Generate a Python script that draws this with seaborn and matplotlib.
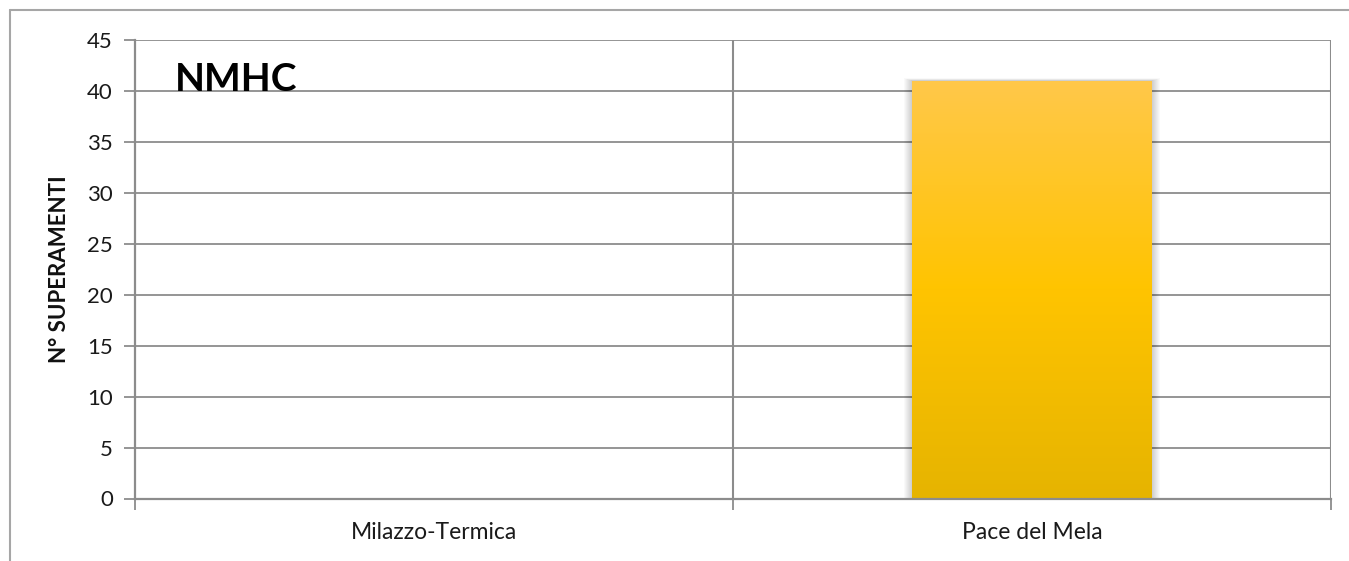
import numpy as np
import pandas as pd
import matplotlib
matplotlib.use("Agg")
import matplotlib.pyplot as plt
import seaborn as sns
from matplotlib.colors import LinearSegmentedColormap
from matplotlib.patches import Rectangle
from matplotlib.lines import Line2D

# Data
stations = ["Milazzo-Termica", "Pace del Mela"]
exceedances = [0, 41]
y_ticks = [0, 5, 10, 15, 20, 25, 30, 35, 40, 45]
title_text = "NMHC"
y_label = "N° SUPERAMENTI"

sns.set_theme(style="white")
plt.rcParams["font.family"] = ["Lato", "DejaVu Sans"]

W, H, DPI = 1349, 561, 100
fig = plt.figure(figsize=(W / DPI, H / DPI), dpi=DPI)
ax = fig.add_axes([135 / W, 1 - 498.5 / H, (1331 - 135) / W, (498.5 - 40) / H])

df = pd.DataFrame({"station": stations, "value": exceedances})
sns.barplot(data=df, x="station", y="value", ax=ax, width=0.4,
            color="#FFC000", edgecolor="none", zorder=3)

ax.set_xlim(-0.5, 1.5)
ax.set_ylim(0, 45)
ax.set_yticks(y_ticks)
ax.set_yticklabels([str(t) for t in y_ticks], fontsize=16, color="#1a1a1a")
ax.tick_params(axis="y", length=8, width=1.3, color="#8c8c8c", direction="out", pad=8, left=True)
ax.tick_params(axis="x", which="major", length=0, pad=17, labelsize=16.5, labelcolor="#1a1a1a")
ax.set_xticks([-0.5, 0.5, 1.5], minor=True)
ax.tick_params(axis="x", which="minor", length=8, width=1.3, color="#8c8c8c", direction="out", bottom=True)
ax.set_xlabel("")
ax.set_ylabel(y_label, fontsize=16, fontweight="bold", color="#111111")
ax.yaxis.label.set_va("center")
ax.yaxis.set_label_coords((60 - 135) / 1196, 0.5)

# Gridlines
ax.grid(False)
for t in y_ticks[1:]:
    ax.axhline(t, color="#8c8c8c", lw=1.3, zorder=1)
for xb in [0.5, 1.5]:
    ax.axvline(xb, color="#8c8c8c", lw=1.5, zorder=1)
for s in ["top", "right"]:
    ax.spines[s].set_visible(False)
for s in ["left", "bottom"]:
    ax.spines[s].set_color("#8c8c8c")
    ax.spines[s].set_linewidth(1.6)
    ax.spines[s].set_zorder(5)

# Gradient fill and soft shadow for each bar
cmap = LinearSegmentedColormap.from_list("gold", ["#E6B400", "#FFC400", "#FFC84A"])
grad = np.linspace(0, 1, 256).reshape(-1, 1)
for patch in ax.patches:
    x0, y0 = patch.get_x(), patch.get_y()
    w, h = patch.get_width(), patch.get_height()
    if h <= 0:
        continue
    # soft shadow: layered translucent rectangles
    px_x = 2.0 / 1196
    px_y = 45.0 / 458.5
    for i in range(1, 9):
        ax.add_patch(Rectangle((x0 - i * px_x, y0 - i * px_y * 0.6),
                               w + 2 * i * px_x, h + i * px_y * 0.9,
                               facecolor="black", alpha=0.022, edgecolor="none", zorder=2))
    im = ax.imshow(grad, extent=[x0, x0 + w, y0, y0 + h], origin="lower",
                   cmap=cmap, aspect="auto", zorder=4)
    im.set_clip_path(patch)
    patch.set_facecolor("none")

ax.set_xlim(-0.5, 1.5)
ax.set_ylim(0, 45)

ax.text(175 / W, 1 - 91 / H, title_text, transform=fig.transFigure,
        fontsize=28, fontweight="bold", color="black", va="baseline", ha="left", zorder=6)

# Chart frame
fig.add_artist(Line2D([10 / W, 1], [1 - 10 / H, 1 - 10 / H], transform=fig.transFigure,
                      color="#a6a6a6", lw=1.5))
fig.add_artist(Line2D([10 / W, 10 / W], [0, 1 - 10 / H], transform=fig.transFigure,
                      color="#a6a6a6", lw=1.5))

fig.savefig("out.png", dpi=DPI)
